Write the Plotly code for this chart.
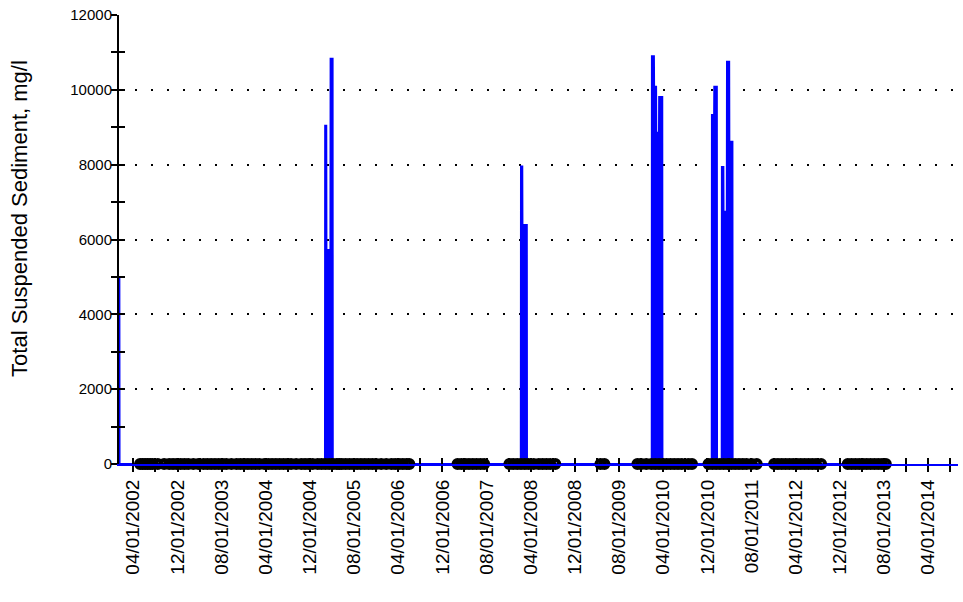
import plotly.graph_objects as go

# TSS readings (mg/l) - zero most of the time, a few storm events
tss_dates = [
    "2002-01-14", "2002-01-15",
    "2005-02-21", "2005-02-22", "2005-02-28", "2005-03-01", "2005-03-23", "2005-03-24", "2005-04-04", "2005-04-05",
    "2008-02-06", "2008-02-07", "2008-02-14", "2008-02-15", "2008-03-10", "2008-03-11",
    "2010-01-28", "2010-01-29", "2010-02-09", "2010-02-10", "2010-02-21", "2010-02-22", "2010-03-09", "2010-03-10",
    "2010-03-27", "2010-03-28",
    "2010-12-25", "2010-12-26", "2011-01-07", "2011-01-08", "2011-01-22", "2011-01-23",
    "2011-02-18", "2011-02-19", "2011-02-27", "2011-02-28", "2011-03-18", "2011-03-19", "2011-03-31", "2011-04-01",
    "2011-04-18", "2011-04-19",
    "2013-08-11",
]
tss_values = [
    5000, 0,
    0, 9040, 9040, 5720, 5720, 10830, 10830, 0,
    0, 7950, 7950, 6390, 6390, 0,
    0, 10900, 10900, 10080, 10080, 8850, 8850, 9810,
    9810, 0,
    0, 9330, 9330, 10080, 10080, 0,
    0, 7940, 7940, 6740, 6740, 10750, 10750, 8610,
    8610, 0,
    0,
]

# sampling dates (markers along the zero line)
samples_2002_2005 = [
    "2002-05-08", "2002-05-22", "2002-06-05", "2002-06-19", "2002-07-03", "2002-07-17", "2002-08-14",
    "2002-09-18", "2002-10-16", "2002-11-06", "2002-11-27", "2002-12-18",
    "2003-01-08", "2003-01-29", "2003-02-26", "2003-03-26", "2003-04-23", "2003-05-14", "2003-06-04",
    "2003-06-25", "2003-07-16", "2003-08-06", "2003-08-27", "2003-09-24", "2003-10-22", "2003-11-12",
    "2003-12-03", "2003-12-24",
    "2004-01-14", "2004-02-04", "2004-02-25", "2004-03-24", "2004-04-14", "2004-05-05", "2004-05-26",
    "2004-06-16", "2004-07-07", "2004-07-28", "2004-08-18", "2004-09-15", "2004-10-13", "2004-11-03",
    "2004-11-24", "2004-12-15",
    "2005-01-12", "2005-02-02", "2005-02-23", "2005-03-16", "2005-04-06",
]
samples_2005_2006 = [
    "2005-04-27", "2005-05-11", "2005-05-25", "2005-06-15", "2005-07-06", "2005-07-27", "2005-08-17",
    "2005-09-07", "2005-09-28", "2005-10-19", "2005-11-09", "2005-11-30", "2005-12-28",
    "2006-01-25", "2006-02-22", "2006-03-15", "2006-04-05", "2006-04-26", "2006-05-17", "2006-06-01",
]
samples_2007_2009 = [
    "2007-02-22", "2007-03-15", "2007-04-05", "2007-04-26", "2007-05-17", "2007-06-07", "2007-06-28",
    "2007-07-19",
    "2007-12-05", "2007-12-26", "2008-01-17", "2008-02-07", "2008-02-28", "2008-03-20", "2008-04-17",
    "2008-05-15", "2008-06-05", "2008-06-26", "2008-07-17", "2008-08-14",
    "2009-04-20", "2009-05-12",
]
samples_2009_2011 = [
    "2009-11-10", "2009-12-01", "2009-12-29", "2010-01-26", "2010-02-16", "2010-03-09", "2010-03-30",
    "2010-04-20", "2010-05-11", "2010-06-01", "2010-06-22", "2010-07-13", "2010-08-17", "2010-09-07",
    "2010-12-07", "2010-12-28", "2011-01-18", "2011-02-08", "2011-03-01", "2011-03-22", "2011-04-12",
    "2011-05-03", "2011-05-24", "2011-06-14", "2011-07-05", "2011-08-02", "2011-08-30",
]
samples_2011_2013 = [
    "2011-12-04", "2011-12-25", "2012-01-15", "2012-02-05", "2012-02-26", "2012-03-18", "2012-04-08",
    "2012-04-29", "2012-05-20", "2012-06-10", "2012-07-01", "2012-07-22", "2012-08-19",
    "2013-01-13", "2013-02-03", "2013-02-24", "2013-03-17", "2013-04-07", "2013-04-28", "2013-05-19",
    "2013-06-09", "2013-06-30", "2013-07-21", "2013-08-11",
]
sample_dates = samples_2002_2005 + samples_2005_2006 + samples_2007_2009 + samples_2009_2011 + samples_2011_2013

x_range = ["2002-01-12", "2014-09-13"]
y_range = [0, 12000]
font_fam = "Liberation Sans, Arial, sans-serif"

fig = go.Figure()
fig.add_trace(go.Scatter(
    x=tss_dates, y=tss_values, mode="lines",
    line=dict(color="#0000ff", width=2),
    fill="tozeroy", fillcolor="#0000ff",
    showlegend=False, hoverinfo="skip",
))
fig.add_trace(go.Scatter(
    x=sample_dates, y=[0] * len(sample_dates), mode="markers",
    marker=dict(symbol="circle-open", size=8, color="black", line=dict(width=4, color="black")),
    xaxis="x2", yaxis="y2", showlegend=False, cliponaxis=False,
))

tick_style = dict(tickcolor="black", tickwidth=2, ticklen=6)

fig.update_layout(
    width=963, height=602,
    margin=dict(l=119, r=5, t=15, b=138),
    paper_bgcolor="white", plot_bgcolor="white",
    font=dict(family=font_fam, color="black"),
    xaxis=dict(
        type="date", range=x_range,
        showline=True, linecolor="#0000ff", linewidth=2,
        ticks="outside", **tick_style,
        tick0="2002-04-01", dtick="M8", tickformat="%m/%d/%Y", tickangle=-90,
        tickfont=dict(size=19),
        minor=dict(ticks="outside", tick0="2002-04-01", dtick="M4", ticklen=6, tickwidth=2, tickcolor="black"),
        showgrid=False, zeroline=False,
    ),
    yaxis=dict(
        range=y_range, layer="below traces",
        showline=True, linecolor="black", linewidth=2,
        ticks="outside", **tick_style,
        dtick=2000, tickformat="d", tickfont=dict(size=15), ticklabelstandoff=-4,
        minor=dict(ticks="outside", dtick=1000, ticklen=6, tickwidth=2, tickcolor="black"),
        showgrid=True, gridcolor="black", gridwidth=2, griddash="2px,14px",
        zeroline=False,
    ),
    xaxis2=dict(
        type="date", range=x_range, overlaying="x", anchor="y2", side="bottom",
        ticks="inside", **tick_style,
        tick0="2002-04-01", dtick="M8", showticklabels=False,
        minor=dict(ticks="inside", tick0="2002-04-01", dtick="M4", ticklen=6, tickwidth=2, tickcolor="black"),
        showgrid=False, zeroline=False, showline=False,
    ),
    yaxis2=dict(
        range=y_range, overlaying="y", anchor="x2", side="left",
        ticks="inside", **tick_style, dtick=2000, showticklabels=False,
        minor=dict(ticks="inside", dtick=1000, ticklen=6, tickwidth=2, tickcolor="black"),
        showgrid=False, zeroline=False, showline=False,
    ),
    annotations=[dict(
        text="Total Suspended Sediment, mg/l", textangle=-90,
        xref="paper", yref="paper", x=-0.118, y=0.548,
        xanchor="center", yanchor="middle", showarrow=False,
        font=dict(size=22, family=font_fam, color="black"),
    )],
)

# drop the default page margin so the chart sits at the window's top-left corner
fig.write_html("out.html", config={"displayModeBar": False},
               post_script="document.body.style.margin='0';")
